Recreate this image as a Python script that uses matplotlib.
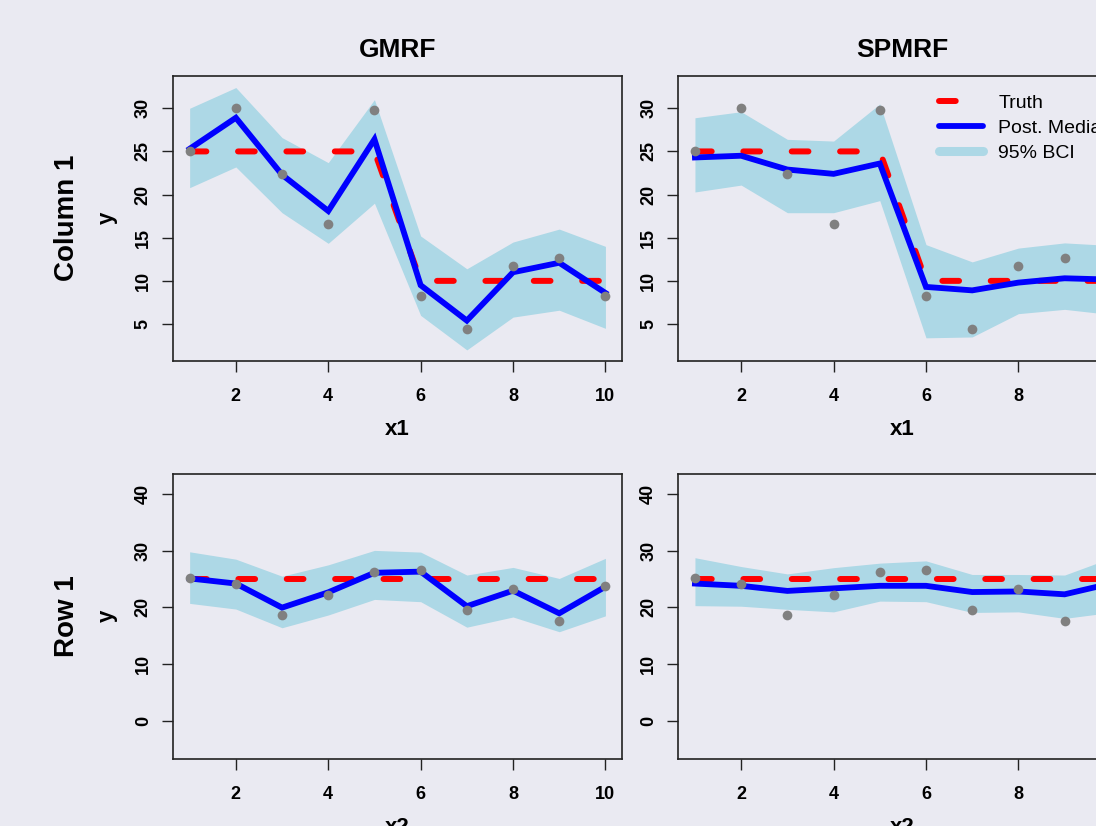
import matplotlib
matplotlib.use("Agg")
import matplotlib.pyplot as plt
from matplotlib.lines import Line2D

# data
x = [1, 2, 3, 4, 5, 6, 7, 8, 9, 10]

obs_col = [25.1, 30.0, 22.35, 16.6, 29.85, 8.2, 4.45, 11.75, 12.7, 8.2]
truth_col = [25, 25, 25, 25, 25, 10, 10, 10, 10, 10]
gmrf_col_med = [25.3, 28.9, 22.3, 18.1, 26.4, 9.5, 5.4, 11.0, 12.1, 8.6]
gmrf_col_lo = [20.8, 23.2, 17.9, 14.35, 19.0, 6.0, 2.0, 5.8, 6.6, 4.5]
gmrf_col_hi = [30.0, 32.4, 26.6, 23.7, 31.0, 15.2, 11.4, 14.5, 16.0, 14.0]
spmrf_col_med = [24.3, 24.5, 22.9, 22.4, 23.6, 9.3, 8.9, 9.8, 10.3, 10.15]
spmrf_col_lo = [20.3, 21.1, 17.9, 17.9, 19.3, 3.4, 3.5, 6.2, 6.7, 6.1]
spmrf_col_hi = [28.9, 29.6, 26.4, 26.2, 30.5, 14.2, 12.2, 13.8, 14.4, 14.1]

obs_row = [25.1, 24.1, 18.65, 22.2, 26.3, 26.65, 19.6, 23.3, 17.65, 23.8]
truth_row = [25, 25, 25, 25, 25, 25, 25, 25, 25, 25]
gmrf_row_med = [25.1, 24.2, 19.95, 22.65, 26.1, 26.3, 20.2, 22.95, 18.95, 23.65]
gmrf_row_lo = [20.7, 19.7, 16.4, 18.65, 21.4, 21.0, 16.5, 18.3, 15.7, 18.5]
gmrf_row_hi = [29.8, 28.5, 25.5, 27.5, 30.05, 29.75, 25.7, 27.05, 25.1, 28.65]
spmrf_row_med = [24.2, 23.8, 22.9, 23.35, 23.8, 23.8, 22.7, 22.8, 22.3, 24.2]
spmrf_row_lo = [20.3, 20.2, 19.65, 19.2, 21.1, 21.0, 19.1, 19.2, 18.05, 19.1]
spmrf_row_hi = [28.76, 27.2, 25.9, 27.0, 27.8, 28.2, 25.8, 25.8, 25.7, 28.7]

BG = "#eaeaf2"
BAND = "#add8e6"
FONT = "Liberation Sans"

plt.rcParams["font.family"] = FONT
plt.rcParams["font.weight"] = "bold"
plt.rcParams["axes.titleweight"] = "bold"
plt.rcParams["axes.labelweight"] = "bold"

W, H = 1096, 826
fig = plt.figure(figsize=(W / 100, H / 100), dpi=100, facecolor=BG)


def add_ax(l, t, r, b):
    return fig.add_axes([l / W, 1 - b / H, (r - l) / W, (b - t) / H])


def panel(ax, obs, truth, med, lo, hi, ylim, yticks, xticks, xlab):
    ax.set_facecolor(BG)
    ax.fill_between(x, lo, hi, color=BAND, lw=0)
    ax.plot(x, truth, color="red", lw=4.3, dashes=(2.8, 5.3),
            dash_capstyle="round")
    ax.plot(x, med, color="blue", lw=4.2, solid_joinstyle="miter")
    ax.plot(x, obs, "o", color="gray", ms=7, mec="none")
    ax.set_xlim(0.633, 10.35)
    ax.set_ylim(*ylim)
    ax.set_xticks(xticks)
    ax.set_yticks(yticks)
    ax.tick_params(axis="both", length=8, width=1, color="#222222",
                   labelsize=13)
    ax.tick_params(axis="x", pad=12)
    ax.tick_params(axis="y", pad=7)
    for lab in ax.get_yticklabels():
        lab.set_rotation(90)
        lab.set_va("center")
    for s in ax.spines.values():
        s.set_color("#222222")
        s.set_linewidth(1.2)
    ax.set_xlabel(xlab, fontsize=16, fontweight="bold", labelpad=10)


ylim_top = (0.75, 33.74)
ylim_bot = (-6.67, 43.53)
xt_left = [2, 4, 6, 8, 10]
xt_right = [2, 4, 6, 8]

ax1 = add_ax(172.7, 76, 621.6, 360.7)
panel(ax1, obs_col, truth_col, gmrf_col_med, gmrf_col_lo, gmrf_col_hi,
      ylim_top, [5, 10, 15, 20, 25, 30], xt_left, "x1")
ax1.set_title("GMRF", fontsize=19, fontweight="bold", pad=14)

ax2 = add_ax(678, 76, 1127, 360.7)
panel(ax2, obs_col, truth_col, spmrf_col_med, spmrf_col_lo, spmrf_col_hi,
      ylim_top, [5, 10, 15, 20, 25, 30], xt_right, "x1")
ax2.set_title("SPMRF", fontsize=19, fontweight="bold", pad=14)

ax3 = add_ax(172.7, 474, 621.6, 758.5)
panel(ax3, obs_row, truth_row, gmrf_row_med, gmrf_row_lo, gmrf_row_hi,
      ylim_bot, [0, 10, 20, 30, 40], xt_left, "x2")

ax4 = add_ax(678, 474, 1127, 758.5)
panel(ax4, obs_row, truth_row, spmrf_row_med, spmrf_row_lo, spmrf_row_hi,
      ylim_bot, [0, 10, 20, 30, 40], xt_right, "x2")

handles = [
    Line2D([], [], color="red", lw=4.3, dashes=(2.8, 5.3), dash_capstyle="round"),
    Line2D([], [], color="blue", lw=4.2, solid_capstyle="round"),
    Line2D([], [], color=BAND, lw=6.5, solid_capstyle="round"),
]
leg = ax2.legend(handles, ["Truth", "Post. Median", "95% BCI"],
                 loc="upper left", bbox_to_anchor=(0.581, 0.935),
                 frameon=False, borderpad=0, borderaxespad=0,
                 handlelength=2.25, handletextpad=0.8, labelspacing=0.38,
                 prop={"family": FONT, "weight": "normal", "size": 14})

# row / column labels and y labels
fig.text(66.7 / W, 1 - 218 / H, "Column 1", rotation=90, ha="center",
         va="center", fontsize=20, fontweight="bold")
fig.text(107.7 / W, 1 - 218 / H, "y", rotation=90, ha="center",
         va="center", fontsize=16, fontweight="bold")
fig.text(66.7 / W, 1 - 616 / H, "Row 1", rotation=90, ha="center",
         va="center", fontsize=20, fontweight="bold")
fig.text(107.7 / W, 1 - 616 / H, "y", rotation=90, ha="center",
         va="center", fontsize=16, fontweight="bold")

fig.savefig("out.png", dpi=100, facecolor=BG)
